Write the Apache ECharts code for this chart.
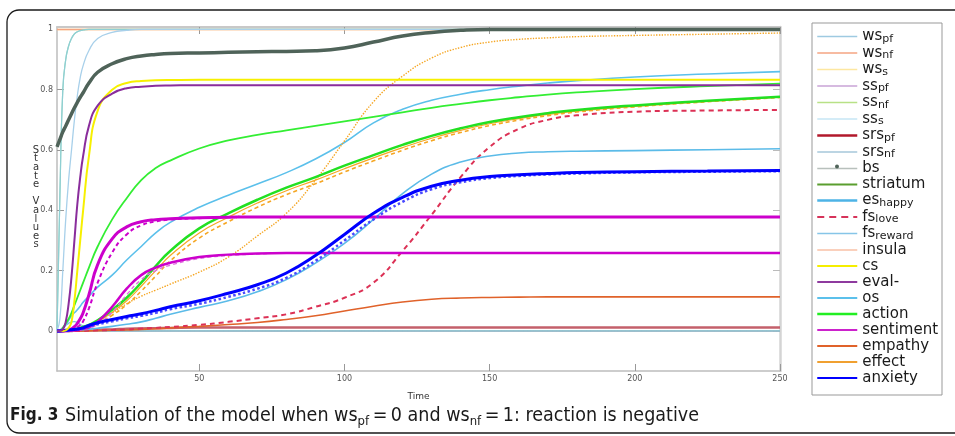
<!DOCTYPE html>
<html>
<head>
<meta charset="utf-8">
<script src="https://cdn.jsdelivr.net/npm/echarts@6/dist/echarts.min.js"></script>
<style>
  html, body { margin: 0; padding: 0; background: #fff; }
  #main { width: 955px; height: 436px; }
</style>
</head>
<body>
<div id="main"></div>
<script>
// time steps (x axis)
var time = [1,2,3,4,5,6,7,8,9,10,12,15,20,25,30,35,40,50,60,70,80,90,100,110,120,130,140,150,160,170,180,200,225,250];

// state values, one value per time step
var wspf = [0,0,0,0,0,0,0,0,0,0,0,0,0,0,0,0,0,0,0,0,0,0,0,0,0,0,0,0,0,0,0,0,0,0];
var wsnf = [1,1,1,1,1,1,1,1,1,1,1,1,1,1,1,1,1,1,1,1,1,1,1,1,1,1,1,1,1,1,1,1,1,1];
var wss = [1,1,1,1,1,1,1,1,1,1,1,1,1,1,1,1,1,1,1,1,1,1,1,1,1,1,1,1,1,1,1,1,1,1];
var sspf = [0,0,0,0,0,0,0,0,0,0,0,0,0,0,0,0,0,0,0,0,0,0,0,0,0,0,0,0,0,0,0,0,0,0];
var ssnf = [0,0.45,0.8,0.9,0.945,0.97,0.985,0.992,0.996,0.998,1,1,1,1,1,1,1,1,1,1,1,1,1,1,1,1,1,1,1,1,1,1,1,1];
var sss = [0,0.45,0.8,0.9,0.945,0.97,0.985,0.992,0.996,0.998,1,1,1,1,1,1,1,1,1,1,1,1,1,1,1,1,1,1,1,1,1,1,1,1];
var srspf = [0,0,0,0,0,0,0.001,0.001,0.001,0.002,0.003,0.004,0.005,0.007,0.008,0.009,0.01,0.011,0.011,0.011,0.011,0.011,0.011,0.011,0.011,0.011,0.011,0.011,0.011,0.011,0.011,0.011,0.011,0.011];
var srsnf = [0,0.04,0.2,0.37,0.5,0.6,0.7,0.78,0.84,0.88,0.93,0.97,0.99,0.997,1,1,1,1,1,1,1,1,1,1,1,1,1,1,1,1,1,1,1,1];
var bs = [0.61,0.635,0.66,0.68,0.7,0.72,0.74,0.758,0.775,0.79,0.822,0.858,0.886,0.903,0.912,0.917,0.92,0.922,0.924,0.926,0.927,0.929,0.938,0.958,0.978,0.99,0.997,1,1,1,1,1,1,1];
var striatum = [0,0,0.01,0.025,0.04,0.06,0.085,0.11,0.135,0.16,0.21,0.28,0.37,0.44,0.5,0.54,0.565,0.605,0.632,0.65,0.665,0.68,0.695,0.71,0.725,0.74,0.753,0.765,0.775,0.784,0.791,0.802,0.812,0.82];
var eshappy = [0,0,0,0,0.001,0.001,0.002,0.002,0.003,0.004,0.006,0.009,0.015,0.022,0.03,0.042,0.055,0.078,0.1,0.13,0.17,0.225,0.29,0.37,0.455,0.52,0.56,0.58,0.59,0.594,0.596,0.598,0.601,0.604];
var fslove = [0,0,0,0,0,0,0,0,0,0,0.001,0.002,0.003,0.005,0.008,0.01,0.013,0.02,0.03,0.042,0.055,0.08,0.11,0.16,0.265,0.385,0.51,0.61,0.67,0.7,0.715,0.727,0.731,0.733];
var fsreward = [0,0.003,0.01,0.018,0.025,0.03,0.031,0.028,0.022,0.016,0.008,0.002,0,0,0,0,0,0,0,0,0,0,0,0,0,0,0,0,0,0,0,0,0,0];
var insula = [0,0,0,0,0,0,0,0,0,0,0,0,0,0,0,0,0,0,0,0,0,0,0,0,0,0,0,0,0,0,0,0,0,0];
var cs = [0,0,0,0.002,0.01,0.03,0.1,0.2,0.3,0.4,0.58,0.73,0.8,0.822,0.829,0.831,0.832,0.833,0.833,0.833,0.833,0.833,0.833,0.833,0.833,0.833,0.833,0.833,0.833,0.833,0.833,0.833,0.833,0.833];
var evalNeg = [0,0,0.005,0.03,0.09,0.18,0.3,0.42,0.51,0.58,0.68,0.747,0.787,0.805,0.81,0.813,0.814,0.815,0.815,0.815,0.815,0.815,0.815,0.815,0.815,0.815,0.815,0.815,0.815,0.815,0.815,0.815,0.815,0.815];
var os = [0,0.003,0.01,0.02,0.035,0.05,0.06,0.07,0.082,0.095,0.115,0.145,0.185,0.235,0.28,0.325,0.36,0.41,0.45,0.487,0.525,0.57,0.625,0.69,0.735,0.765,0.785,0.8,0.812,0.822,0.83,0.842,0.852,0.86];
var action = [0,0,0,0.001,0.002,0.003,0.005,0.007,0.01,0.013,0.02,0.035,0.07,0.11,0.16,0.215,0.265,0.34,0.39,0.435,0.475,0.51,0.548,0.583,0.617,0.647,0.672,0.693,0.709,0.722,0.733,0.748,0.763,0.777];
var sentiment = [0,0,0,0.001,0.003,0.007,0.014,0.025,0.04,0.06,0.12,0.22,0.305,0.345,0.362,0.369,0.372,0.375,0.377,0.378,0.378,0.378,0.378,0.378,0.378,0.378,0.378,0.378,0.378,0.378,0.378,0.378,0.378,0.378];
var sentimentB = [0,0,0,0,0.001,0.003,0.006,0.012,0.02,0.032,0.075,0.16,0.26,0.32,0.35,0.363,0.369,0.374,0.377,0.378,0.378,0.378,0.378,0.378,0.378,0.378,0.378,0.378,0.378,0.378,0.378,0.378,0.378,0.378];
var sentimentLow = [0,0,0,0,0,0.001,0.002,0.003,0.005,0.007,0.012,0.03,0.08,0.14,0.185,0.21,0.226,0.245,0.253,0.257,0.258,0.258,0.258,0.258,0.258,0.258,0.258,0.258,0.258,0.258,0.258,0.258,0.258,0.258];
var sentimentLowB = [0,0,0,0,0,0,0.001,0.002,0.003,0.005,0.009,0.022,0.062,0.12,0.17,0.2,0.218,0.24,0.25,0.255,0.258,0.258,0.258,0.258,0.258,0.258,0.258,0.258,0.258,0.258,0.258,0.258,0.258,0.258];
var empathy = [0,0,0,0,0,0,0,0,0,0,0,0.001,0.002,0.003,0.005,0.007,0.01,0.015,0.021,0.028,0.038,0.05,0.066,0.082,0.096,0.105,0.109,0.111,0.112,0.113,0.113,0.113,0.113,0.113];
var effect = [0,0,0,0.001,0.002,0.003,0.004,0.006,0.008,0.011,0.017,0.03,0.062,0.1,0.148,0.2,0.25,0.325,0.377,0.424,0.465,0.5,0.538,0.574,0.608,0.639,0.665,0.687,0.704,0.718,0.729,0.745,0.761,0.775];
var effectB = [0,0,0,0,0.001,0.002,0.003,0.004,0.006,0.008,0.013,0.024,0.052,0.087,0.132,0.182,0.232,0.308,0.362,0.41,0.452,0.488,0.527,0.564,0.599,0.631,0.658,0.681,0.699,0.714,0.726,0.743,0.76,0.774];
var effectC = [0,0,0.001,0.002,0.003,0.004,0.006,0.008,0.01,0.013,0.02,0.035,0.06,0.09,0.115,0.135,0.155,0.195,0.245,0.315,0.39,0.5,0.63,0.76,0.845,0.905,0.94,0.958,0.967,0.972,0.976,0.98,0.984,0.988];
var anxiety = [0,0,0.001,0.002,0.003,0.004,0.005,0.006,0.008,0.01,0.018,0.027,0.038,0.048,0.057,0.068,0.08,0.1,0.125,0.153,0.192,0.25,0.32,0.39,0.443,0.48,0.5,0.512,0.518,0.522,0.525,0.528,0.53,0.532];
var anxietyB = [0,0,0,0.001,0.002,0.003,0.004,0.005,0.006,0.008,0.014,0.022,0.032,0.042,0.05,0.06,0.072,0.09,0.113,0.14,0.176,0.232,0.3,0.37,0.428,0.47,0.493,0.507,0.514,0.519,0.522,0.526,0.528,0.53];

// tick labels
var xTicks = [50, 100, 150, 200, 250];
var yTicks = [0, 0.2, 0.4, 0.6, 0.8, 1];

// legend order and the names written with subscripts
var legendNames = ['wspf','wsnf','wss','sspf','ssnf','sss','srspf','srsnf','bs','striatum','eshappy','fslove','fsreward','insula','cs','eval-','os','action','sentiment','empathy','effect','anxiety'];
var subNames = {
  wspf: ['ws','pf'], wsnf: ['ws','nf'], wss: ['ws','s'],
  sspf: ['ss','pf'], ssnf: ['ss','nf'], sss: ['ss','s'],
  srspf: ['srs','pf'], srsnf: ['srs','nf'],
  eshappy: ['es','happy'], fslove: ['fs','love'], fsreward: ['fs','reward']
};
// legend icon colours (as drawn in the legend box)
var legendColors = {
  wspf: '#9ecae1', wsnf: '#f4a582', wss: '#fde7a0', sspf: '#c9a3d6', ssnf: '#b8e186', sss: '#c6e6f5',
  srspf: '#b2182b', srsnf: '#bcd5e3', bs: '#b8c0bc', striatum: '#5a9e2f', eshappy: '#4db3e6',
  fslove: '#d6335a', fsreward: '#86c5e8', insula: '#f9c0a6', cs: '#f5ee00', 'eval-': '#8e3a9e',
  os: '#5bc0eb', action: '#22ee22', sentiment: '#cc22cc', empathy: '#e0622a', effect: '#f0a030', anxiety: '#0000ff'
};
var legendWidths = { srspf: 2.5, srsnf: 2, striatum: 2, eshappy: 2.5, fslove: 2, cs: 2, 'eval-': 2, os: 2, action: 2.5, sentiment: 2, empathy: 2, effect: 2, anxiety: 2 };

function pts(vals) {
  return time.map(function (t, i) { return [t, vals[i]]; });
}
function line(name, vals, color, width, type, z) {
  return {
    name: name,
    type: 'line',
    data: pts(vals),
    symbol: 'none',
    smooth: 0.5,
    silent: true,
    z: z || 2,
    lineStyle: { color: color, width: width, type: type || 'solid' },
    itemStyle: { color: color }
  };
}

var series = [
  line('wspf', wspf, '#4e9fc4', 1.5),
  line('sspf', sspf, '#c9a3d6', 1),
  line('insula', insula, '#f9c0a6', 1),
  line('wss', wss, '#fde7a0', 1.5),
  line('wsnf', wsnf, '#f4a582', 1.5),
  line('ssnf', ssnf, '#9fd8c4', 1.2),
  line('sss', sss, '#8ecfd3', 1.2),
  line('srsnf', srsnf, '#a8d0ea', 1.3),
  line('srspf', srspf, '#c4606b', 2.5),
  line('fsreward', fsreward, '#7fc8d8', 1.3),
  line('empathy', empathy, '#e0622a', 1.6),
  line('fslove', fslove, '#dc3155', 2, [5, 4]),
  line('eshappy', eshappy, '#5bbbe8', 1.6),
  line('os', os, '#5bc0eb', 1.6),
  line('effectC', effectC, '#f5a623', 1.4, 'dotted'),
  line('effectB', effectB, '#f5a623', 1.6, [4, 3]),
  line('effect', effect, '#f5a623', 1.2),
  line('action', action, '#22e022', 2.5),
  line('striatum', striatum, '#33ee33', 1.8),
  line('sentimentLowB', sentimentLowB, '#e070e0', 1.4, [4, 3]),
  line('sentimentLow', sentimentLow, '#cc00cc', 2.5),
  line('sentimentB', sentimentB, '#cc00cc', 2, [4, 3]),
  line('sentiment', sentiment, '#cc00cc', 3),
  line('anxietyB', anxietyB, '#4a4aff', 2.5, 'dotted'),
  line('anxiety', anxiety, '#0000ff', 3),
  line('cs', cs, '#f7f000', 2),
  line('eval-', evalNeg, '#8a2d9c', 2),
  line('bs', bs, '#4f6359', 3.5, 'solid', 3)
];

var legendData = legendNames.map(function (n) {
  return {
    name: n,
    lineStyle: {
      color: legendColors[n],
      width: legendWidths[n] || 1.3,
      type: n === 'fslove' ? [7, 5] : 'solid'
    },
    itemStyle: { color: legendColors[n], opacity: 0 }
  };
});

var chart = echarts.init(document.getElementById('main'));
var axisGray = '#bdbdbd';
var legendTop = 29, legendStep = 16.2;
var option = {
  animation: false,
  backgroundColor: '#fff',
  grid: { left: 57, top: 27, right: 175, bottom: 65, containLabel: false },
  xAxis: [{
    type: 'value', min: 1, max: 250,
    name: 'Time', nameLocation: 'middle', nameGap: 21,
    nameTextStyle: { fontFamily: 'DejaVu Sans', fontSize: 9, color: '#333' },
    axisLine: { show: true, onZero: false, lineStyle: { color: axisGray, width: 1.5 } },
    axisTick: { show: true, inside: true, length: 7, customValues: xTicks, lineStyle: { color: '#999' } },
    axisLabel: { customValues: xTicks, fontFamily: 'DejaVu Sans', fontSize: 8, color: '#555', margin: 4 },
    splitLine: { show: false }
  }, {
    type: 'value', min: 1, max: 250, position: 'top',
    axisLine: { show: true, onZero: false, lineStyle: { color: '#c8c8c8', width: 2 } },
    axisTick: { show: true, inside: true, length: 7, customValues: xTicks, lineStyle: { color: '#999' } },
    axisLabel: { show: false },
    splitLine: { show: false }
  }],
  yAxis: [{
    type: 'value', min: -0.133, max: 1.008,
    axisLine: { show: true, onZero: false, lineStyle: { color: axisGray, width: 1.5 } },
    axisTick: { show: true, inside: true, length: 7, customValues: yTicks, lineStyle: { color: '#999' } },
    axisLabel: { customValues: yTicks, fontFamily: 'DejaVu Sans', fontSize: 8, color: '#555', margin: 4 },
    splitLine: { show: false }
  }, {
    type: 'value', min: -0.133, max: 1.008, position: 'right',
    axisLine: { show: true, onZero: false, lineStyle: { color: '#d4d4d4', width: 2.5 } },
    axisTick: { show: true, inside: true, length: 7, customValues: yTicks, lineStyle: { color: '#bbb' } },
    axisLabel: { show: false },
    splitLine: { show: false }
  }],
  legend: {
    orient: 'vertical',
    left: 816, top: legendTop,
    padding: 0,
    itemWidth: 40, itemHeight: 16, itemGap: 1,
    selectedMode: false,
    data: legendData,
    formatter: function (n) {
      if (subNames[n]) return '{m|' + subNames[n][0] + '}{s|' + subNames[n][1] + '}';
      return '{m|' + n + '}';
    },
    textStyle: {
      color: '#1a1a1a',
      rich: {
        m: { fontFamily: 'DejaVu Sans', fontSize: 15, lineHeight: 16, color: '#1a1a1a' },
        s: { fontFamily: 'DejaVu Sans', fontSize: 11, lineHeight: 12, verticalAlign: 'bottom', color: '#1a1a1a' }
      }
    }
  },
  graphic: [
    { type: 'rect', z: -1, shape: { x: 7, y: 10, width: 1000, height: 423, r: 12 },
      style: { fill: 'none', stroke: '#1a1a1a', lineWidth: 1.3 } },
    { type: 'rect', z: -1, shape: { x: 812, y: 23, width: 130, height: 372 },
      style: { fill: '#fff', stroke: '#999', lineWidth: 1 } },
    // dot marker of the bs legend entry
    { type: 'circle', z: 10, shape: { cx: 837, cy: legendTop + 8 * legendStep + 8, r: 2 },
      style: { fill: '#4f6359' } },
    { type: 'text', z: 10,
      style: { x: 36, y: 146, text: 'S\nt\na\nt\ne\n\nV\na\nl\nu\ne\ns', fontFamily: 'DejaVu Sans', fontSize: 10,
        lineHeight: 8.6, fill: '#333', align: 'center', verticalAlign: 'top' } },
    { type: 'text', left: 10, top: 406,
      style: {
        text: '{b|Fig. 3}  {n|Simulation of the model when ws}{s|pf}{n|\u2009=\u20090 and ws}{s|nf}{n|\u2009=\u20091: reaction is negative}',
        rich: {
          b: { fontFamily: 'DejaVu Sans Condensed', fontWeight: 'bold', fontSize: 17, lineHeight: 24, fill: '#1a1a1a' },
          n: { fontFamily: 'DejaVu Sans Condensed', fontSize: 19.5, lineHeight: 24, fill: '#1a1a1a' },
          s: { fontFamily: 'DejaVu Sans Condensed', fontSize: 13, lineHeight: 15, verticalAlign: 'bottom', fill: '#1a1a1a' }
        }
      } }
  ],
  series: series
};
chart.setOption(option);
</script>
</body>
</html>
